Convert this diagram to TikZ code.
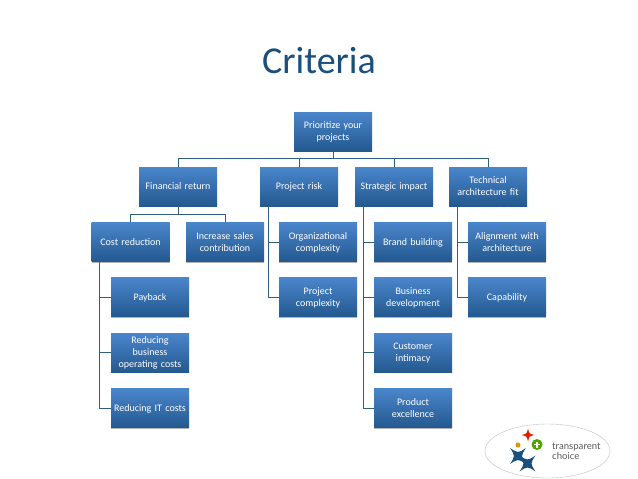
\documentclass[tikz,border=0pt]{standalone}
\usepackage{fontspec}
\setmainfont{Carlito}
\newfontfamily\logofont{Lato}
\usetikzlibrary{shadows,shapes.geometric}
\definecolor{topblue}{HTML}{4A86CC}
\definecolor{botblue}{HTML}{24598F}
\definecolor{linkblue}{HTML}{2F5F7F}
\definecolor{titleblue}{HTML}{1B4F7C}
\tikzset{
 x=1pt,y=-1pt,
 card/.style={minimum width=78pt,minimum height=39pt,inner sep=1pt,align=center,text width=74pt,
   top color=topblue,bottom color=botblue,text=white,font=\fontsize{10}{12}\selectfont,
   drop shadow={shadow xshift=0pt,shadow yshift=-1.2pt,fill=black,opacity=.3}},
 link/.style={draw=linkblue,line width=1pt},
}
\newcommand{\cardat}[4]{\node[card] (#1) at (#2,#3) {\raisebox{-1pt}[\height][\depth]{\begin{tabular}{@{}c@{}}#4\end{tabular}}};}
\newcommand{\fourstar}[5]{\fill[#5] (#1-#3,#2) .. controls (#1-#4,#2-#4) .. (#1,#2-#3) .. controls (#1+#4,#2-#4) .. (#1+#3,#2) .. controls (#1+#4,#2+#4) .. (#1,#2+#3) .. controls (#1-#4,#2+#4) .. cycle;}
\begin{document}
\begin{tikzpicture}
\useasboundingbox (0,0) rectangle (638,479);
\fill[white] (0,0) rectangle (638,479);
\node[text=titleblue,font=\fontsize{38}{40}\selectfont] (title) at (319,61) {Criteria};
\coordinate (rootbus) at (333,158);
\coordinate (finbus) at (178,214);
\coordinate (Tfin) at (178,158);
\coordinate (Ttech) at (488,158);
\coordinate (Tcost) at (130.5,214);
\coordinate (Tinc) at (225,214);
\cardat{root}{333}{131.5}{Prioritize your\\projects}
\cardat{fin}{178}{186.5}{Financial return}
\cardat{risk}{299}{186.5}{Project risk}
\cardat{strat}{394}{186.5}{Strategic impact}
\cardat{tech}{488}{186.5}{Technical\\architecture fit}
\cardat{cost}{130.5}{242}{Cost reduction}
\cardat{inc}{225}{242}{Increase sales\\contribution}
\cardat{pay}{150}{297}{Payback}
\cardat{opc}{150}{352.5}{Reducing\\business\\operating costs}
\cardat{itc}{150}{408}{Reducing IT costs}
\cardat{org}{318}{242}{Organizational\\complexity}
\cardat{prj}{318}{297}{Project\\complexity}
\cardat{brand}{413}{242}{Brand building}
\cardat{biz}{413}{297}{Business\\development}
\cardat{cust}{413}{352.5}{Customer\\intimacy}
\cardat{prod}{413}{408}{Product\\excellence}
\cardat{align}{507}{242}{Alignment with\\architecture}
\cardat{cap}{507}{297}{Capability}
\draw[link] (root.south) -- (rootbus);
\draw[link] (Tfin) -- (Ttech);
\draw[link] (Tfin) -- (fin.north);
\draw[link] (risk.north |- Tfin) -- (risk.north);
\draw[link] (strat.north |- Tfin) -- (strat.north);
\draw[link] (Ttech) -- (tech.north);
\draw[link] (fin.south) -- (finbus);
\draw[link] (Tcost) -- (Tinc);
\draw[link] (Tcost) -- (cost.north);
\draw[link] (Tinc) -- (inc.north);
\coordinate (a) at (99.5,261);
\draw[link] (a) -- (a |- itc.west) -- (itc.west);
\draw[link] (a |- pay.west) -- (pay.west);
\draw[link] (a |- opc.west) -- (opc.west);
\coordinate (b) at (268,206);
\draw[link] (b) -- (b |- prj.west) -- (prj.west);
\draw[link] (b |- org.west) -- (org.west);
\coordinate (c) at (363,206);
\draw[link] (c) -- (c |- prod.west) -- (prod.west);
\draw[link] (c |- brand.west) -- (brand.west);
\draw[link] (c |- biz.west) -- (biz.west);
\draw[link] (c |- cust.west) -- (cust.west);
\coordinate (d) at (457,206);
\draw[link] (d) -- (d |- cap.west) -- (cap.west);
\draw[link] (d |- align.west) -- (align.west);
% logo
\draw[gray!50,line width=0.4pt] (547.5,451) ellipse (62.5 and 27);
\fourstar{528}{435}{6.5}{1.2}{red!70!orange!85!black}
\fill[orange!70!yellow!90!black] (518,445) circle (2.5);
\fill[green!50!black!70!yellow] (537,444.5) circle (5.5);
\fill[white] (534,443.7) rectangle (540,445.3);
\fill[white] (536.2,441.5) rectangle (537.8,447.5);
\begin{scope}[shift={(518,456)},rotate=45]
\fourstar{0}{0}{11}{2}{titleblue}
\end{scope}
\begin{scope}[shift={(527.5,463.5)},rotate=45]
\fourstar{0}{0}{11}{2}{titleblue}
\end{scope}
\node[text=black!65,font=\logofont\fontsize{9.6}{9.5}\selectfont,align=left,anchor=west,inner sep=0pt] (logo) at (552,451.5) {transparent\\choice};
\end{tikzpicture}
\end{document}
